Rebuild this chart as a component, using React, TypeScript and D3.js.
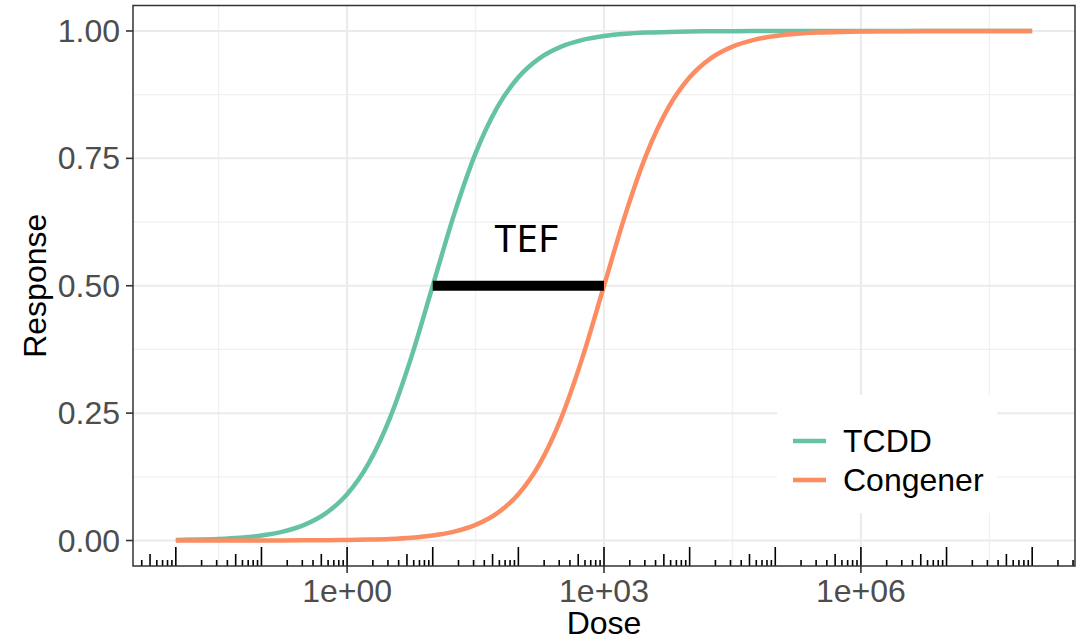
import React from "react";
import * as d3 from "d3";

const doses = [
  0.01, 0.01778, 0.03162, 0.05623, 0.1, 0.1778, 0.3162, 0.5623, 1, 1.778, 3.162, 5.623,
  10, 17.78, 31.62, 56.23, 100, 177.8, 316.2, 562.3, 1000, 1778, 3162, 5623, 1e4, 17783,
  31623, 56234, 1e5, 177828, 316228, 562341, 1e6, 1778279, 3162278, 5623413, 1e7,
  17782794, 31622777, 56234133, 1e8,
];

const tcddResponse = [
  0.000999, 0.001775, 0.00315, 0.00559, 0.0099, 0.01747, 0.03065, 0.05325, 0.0909, 0.151,
  0.2403, 0.3599, 0.5, 0.6401, 0.7597, 0.849, 0.9091, 0.9468, 0.9693, 0.9825, 0.9901,
  0.9944, 0.9968, 0.9982, 0.999, 0.99944, 0.99968, 0.99982, 0.9999, 0.99994, 0.99997,
  0.99998, 0.99999, 1, 1, 1, 1, 1, 1, 1, 1,
];

const congenerResponse = [
  0.00001, 0.000018, 0.000032, 0.000056, 0.0001, 0.000178, 0.000316, 0.000562, 0.000999,
  0.001775, 0.00315, 0.00559, 0.0099, 0.01747, 0.03065, 0.05325, 0.0909, 0.151, 0.2403,
  0.3599, 0.5, 0.6401, 0.7597, 0.849, 0.9091, 0.9468, 0.9693, 0.9825, 0.9901, 0.9944,
  0.9968, 0.9982, 0.999, 0.99944, 0.99968, 0.99982, 0.9999, 0.99994, 0.99997, 0.99998,
  0.99999,
];

const seriesNames = ["TCDD", "Congener"];
const seriesColors = ["#66C2A5", "#FC8D62"];

const xMajorTicks = [1, 1000, 1e6];
const xTickLabels = ["1e+00", "1e+03", "1e+06"];
const xMinorGrid = [10 ** -1.5, 10 ** 1.5, 10 ** 4.5, 10 ** 7.5];
const yTicks = [0, 0.25, 0.5, 0.75, 1];
const yTickLabels = ["0.00", "0.25", "0.50", "0.75", "1.00"];
const yMinorGrid = [0.125, 0.375, 0.625, 0.875];

const tefStart = 10;
const tefEnd = 1000;
const tefLevel = 0.5;
const tefLabel = "TEF";

const W = 1089;
const H = 640;
const panel = { left: 133, right: 1075, top: 5.5, bottom: 566 };

export default function App() {
  const x = d3
    .scaleLog()
    .domain([10 ** -2.5, 10 ** 8.5])
    .range([panel.left, panel.right]);
  const y = d3.scaleLinear().domain([-0.05, 1.05]).range([panel.bottom, panel.top]);

  const line = d3
    .line<[number, number]>()
    .x((d) => x(d[0]))
    .y((d) => y(d[1]))
    .curve(d3.curveMonotoneX);

  const series = [tcddResponse, congenerResponse].map((vals) =>
    doses.map((d, i) => [d, vals[i]] as [number, number])
  );

  // log ticks (annotation_logticks style)
  const logTicks: { v: number; len: number }[] = [];
  for (let e = -3; e <= 8; e++) {
    for (let m = 1; m <= 9; m++) {
      const v = m * 10 ** e;
      if (v < 10 ** -2.5 || v > 10 ** 8.5) continue;
      const len = m === 1 ? 19 : m === 5 ? 12 : 6;
      logTicks.push({ v, len });
    }
  }

  const font = "'Liberation Sans', Arial, sans-serif";
  const fs = 32;

  return (
    <svg
      width={W}
      height={H}
      style={{ position: "absolute", left: 0, top: 0, background: "#fff" }}
    >
      <rect x={0} y={0} width={W} height={H} fill="#fff" />
      {/* minor grid */}
      {xMinorGrid.map((v, i) => (
        <line key={"xm" + i} x1={x(v)} x2={x(v)} y1={panel.top} y2={panel.bottom} stroke="#F0F0F0" strokeWidth={1.3} />
      ))}
      {yMinorGrid.map((v, i) => (
        <line key={"ym" + i} x1={panel.left} x2={panel.right} y1={y(v)} y2={y(v)} stroke="#F0F0F0" strokeWidth={1.3} />
      ))}
      {/* major grid */}
      {xMajorTicks.map((v, i) => (
        <line key={"xg" + i} x1={x(v)} x2={x(v)} y1={panel.top} y2={panel.bottom} stroke="#EBEBEB" strokeWidth={2} />
      ))}
      {yTicks.map((v, i) => (
        <line key={"yg" + i} x1={panel.left} x2={panel.right} y1={y(v)} y2={y(v)} stroke="#EBEBEB" strokeWidth={2} />
      ))}

      {/* log ticks */}
      {logTicks.map((t, i) => (
        <line key={"lt" + i} x1={x(t.v)} x2={x(t.v)} y1={panel.bottom} y2={panel.bottom - t.len} stroke="#000" strokeWidth={1.6} />
      ))}

      {/* curves */}
      {series.map((s, i) => (
        <path key={"s" + i} d={line(s) || ""} fill="none" stroke={seriesColors[i]} strokeWidth={4.5} />
      ))}

      {/* TEF bar */}
      <line x1={x(tefStart)} x2={x(tefEnd)} y1={y(tefLevel)} y2={y(tefLevel)} stroke="#000" strokeWidth={10} />
      <text
        x={(x(tefStart) + x(tefEnd)) / 2 + 8}
        y={252}
        textAnchor="middle"
        fontFamily="'Noto Sans', 'Open Sans', sans-serif"
        fontSize={39}
        fill="#000"
      >
        {tefLabel}
      </text>

      {/* legend */}
      <rect x={777} y={395} width={220} height={118} fill="#fff" />
      {seriesNames.map((n, i) => (
        <g key={"lg" + i}>
          <line x1={793} x2={826} y1={441 + i * 39} y2={441 + i * 39} stroke={seriesColors[i]} strokeWidth={4.5} />
          <text x={843} y={452 + i * 39} fontFamily={font} fontSize={fs} fill="#000">
            {n}
          </text>
        </g>
      ))}

      {/* panel border */}
      <rect
        x={panel.left}
        y={panel.top}
        width={panel.right - panel.left}
        height={panel.bottom - panel.top}
        fill="none"
        stroke="#333333"
        strokeWidth={1.5}
      />

      {/* y axis ticks & labels */}
      {yTicks.map((v, i) => (
        <g key={"yt" + i}>
          <line x1={panel.left - 7} x2={panel.left} y1={y(v)} y2={y(v)} stroke="#333333" strokeWidth={1.6} />
          <text x={120} y={y(v) + 11} textAnchor="end" fontFamily={font} fontSize={fs} fill="#4D4D4D">
            {yTickLabels[i]}
          </text>
        </g>
      ))}

      {/* x axis ticks & labels */}
      {xMajorTicks.map((v, i) => (
        <g key={"xt" + i}>
          <line x1={x(v)} x2={x(v)} y1={panel.bottom} y2={panel.bottom + 7} stroke="#333333" strokeWidth={1.6} />
          <text x={x(v)} y={602} textAnchor="middle" fontFamily={font} fontSize={fs} fill="#4D4D4D">
            {xTickLabels[i]}
          </text>
        </g>
      ))}

      {/* axis titles */}
      <text x={(panel.left + panel.right) / 2} y={634} textAnchor="middle" fontFamily={font} fontSize={fs} fill="#000">
        Dose
      </text>
      <text
        transform={`translate(46, ${(panel.top + panel.bottom) / 2}) rotate(-90)`}
        textAnchor="middle"
        fontFamily={font}
        fontSize={fs}
        fill="#000"
      >
        Response
      </text>
    </svg>
  );
}
